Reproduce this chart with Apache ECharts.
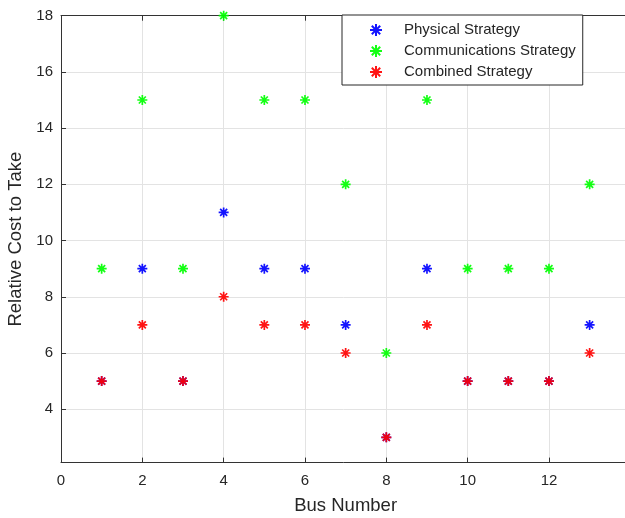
<!DOCTYPE html>
<html>
<head>
<meta charset="utf-8">
<script src="https://cdn.jsdelivr.net/npm/echarts@6/dist/echarts.min.js"></script>
<style>
html,body{margin:0;padding:0;background:#fff;}
#chart{width:625px;height:518px;}
</style>
</head>
<body>
<div id="chart"></div>
<script>
const busNumbers = [1,2,3,4,5,6,7,8,9,10,11,12,13];
const physical = [5,9,5,11,9,9,7,3,9,5,5,5,7];
const communications = [9,15,9,18,15,15,12,6,15,9,9,9,12];
const combined = [5,7,5,8,7,7,6,3,7,5,5,5,6];
const seriesNames = ['Physical Strategy','Communications Strategy','Combined Strategy'];
const yTicks = [4,6,8,10,12,14,16,18];

const star = 'path://M5,0L5,10M0,5L10,5M1.5,1.5L8.5,8.5M8.5,1.5L1.5,8.5';
const font = 'Liberation Sans, Arial, Helvetica, sans-serif';
const axisColor = '#333333';
const gridColor = '#e3e3e3';

function pts(vals){ return busNumbers.map((b,i)=>[b, vals[i]]); }
function mk(name, vals, color){
  return {
    name: name, type: 'scatter', data: pts(vals),
    symbol: star, symbolSize: 10,
    itemStyle: {color: color, borderColor: color, borderWidth: 1.7, opacity: 0.92},
    emphasis: {disabled: true}, animation: false
  };
}

const chart = echarts.init(document.getElementById('chart'), null, {renderer:'canvas'});
chart.setOption({
  backgroundColor: '#ffffff',
  animation: false,
  textStyle: {fontFamily: font},
  grid: {left: 61, top: 15.7, right: -5.3, bottom: 55.4, outerBoundsMode: 'none', containLabel: false},
  legend: {
    orient: 'vertical', left: 342, top: 15,
    padding: [7.5, 7, 5.5, 27],
    itemWidth: 12, itemHeight: 12, itemGap: 6,
    backgroundColor: '#ffffff', borderColor: '#262626', borderWidth: 1, borderRadius: 0,
    textStyle: {fontSize: 15, lineHeight: 15, color: '#262626', fontFamily: font, padding: [0,0,0,17]},
    data: seriesNames
  },
  xAxis: [{
    type: 'value', min: 0, max: 14, interval: 2,
    name: 'Bus Number', nameLocation: 'middle', nameGap: 34,
    nameTextStyle: {fontSize: 18.5, color: '#262626', fontFamily: font},
    axisLine: {show: true, onZero: false, lineStyle: {color: axisColor, width: 1}},
    axisTick: {show: true, inside: true, length: 5, lineStyle: {color: axisColor}},
    axisLabel: {fontSize: 15, color: '#262626', margin: 11, fontFamily: font,
      formatter: v => (v === 14 ? '' : String(v))},
    splitLine: {show: true, lineStyle: {color: gridColor, width: 1}}
  },{
    type: 'value', min: 0, max: 14, interval: 2, position: 'top',
    axisLine: {show: true, onZero: false, lineStyle: {color: axisColor, width: 1}},
    axisTick: {show: true, inside: true, length: 5, lineStyle: {color: axisColor}},
    axisLabel: {show: false}, splitLine: {show: false}
  }],
  yAxis: [{
    type: 'value', min: 2.1, max: 18,
    name: 'Relative Cost to Take', nameLocation: 'middle', nameGap: 32,
    nameTextStyle: {fontSize: 18.5, color: '#262626', fontFamily: font},
    axisLine: {show: true, onZero: false, lineStyle: {color: axisColor, width: 1}},
    axisTick: {show: true, inside: true, length: 5, customValues: yTicks, lineStyle: {color: axisColor}},
    axisLabel: {fontSize: 15, color: '#262626', margin: 8, fontFamily: font, customValues: yTicks},
    splitLine: {show: true, lineStyle: {color: gridColor, width: 1}}
  }],
  series: [
    mk(seriesNames[0], physical, '#0000ff'),
    mk(seriesNames[1], communications, '#00ff00'),
    mk(seriesNames[2], combined, '#ff0000')
  ]
});
</script>
</body>
</html>
